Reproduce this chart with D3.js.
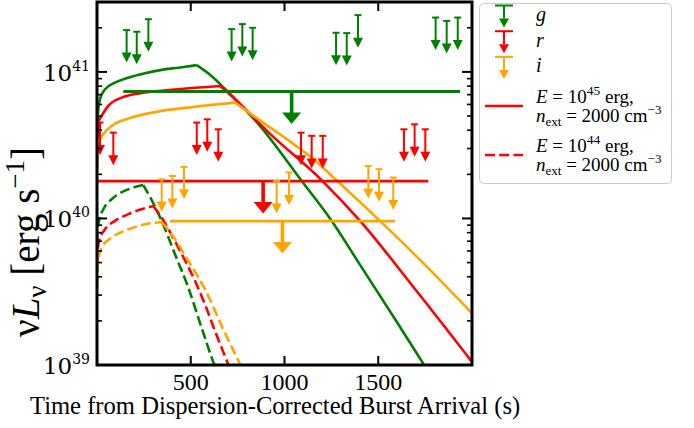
<!DOCTYPE html>
<html>
<head>
<meta charset="utf-8">
<script src="https://cdn.jsdelivr.net/npm/d3@7/dist/d3.min.js"></script>
<style>
html,body{margin:0;padding:0;background:#fff;}
text{font-family:"Liberation Serif","Times New Roman",Times,serif;fill:#000;}
</style>
</head>
<body>
<svg id="c" width="694" height="428"></svg>
<script>
// ---------------- DATA (times in s, luminosities in units of 1e40 erg/s) ----------------
const gLimT = [158,212,274,718,775,830,1275,1332,1392,1806,1865,1924];
const gLimL = [19.3,18.8,22.9,19.6,21.2,20.0,18.5,18.4,24.4,23.5,22.3,23.5];
const rLimT = [16,87,532,588,647,1088,1145,1204,1637,1694,1751];
const rLimL = [4.51,3.85,4.51,4.75,4.06,3.85,3.66,3.66,4.06,4.39,4.06];
const iLimT = [345,402,464,958,1024,1447,1504,1580];
const iLimL = [1.85,1.95,2.25,1.80,2.06,2.28,2.17,1.90];

// stacked (combined) upper limits per band
const stackBands = ["g","r","i"];
const stackStart = [140,5,389];
const stackEnd   = [1936,1767,1589];
const stackL     = [7.35,1.80,0.96];

// model light curves, E = 1e45 erg, n_ext = 2000 cm^-3
const tE45g = [1,4,16,43,96,167,256,345,434,532,603,683,869,1092,1252,1403,1589,1749,1850];
const LE45g = [4.28,5.01,6.52,7.62,8.45,9.14,9.80,10.33,10.69,11.12,9.55,7.65,4.28,1.80,0.962,0.482,0.206,0.098,0.062];
const tE45r = [1,3,7,25,60,132,256,434,656,700,923,1203,1403,1696,2000];
const LE45r = [3.38,3.66,4.51,5.01,5.86,6.68,7.23,7.62,8.02,7.19,3.78,1.80,0.962,0.330,0.105];
const tE45i = [1,3,11,34,78,167,345,523,736,869,1047,1154,1264,1509,1723,2000];
const LE45i = [2.11,2.47,3.29,3.76,4.28,4.80,5.42,5.79,6.17,4.67,3.23,2.55,1.89,0.962,0.521,0.225];
// model light curves, E = 1e44 erg, n_ext = 2000 cm^-3
const tE44g = [1,3,11,34,78,167,247,283,345,416,487,560,629,670];
const LE44g = [0.70,0.822,0.962,1.156,1.352,1.58,1.69,1.40,0.962,0.570,0.337,0.176,0.098,0.075];
const tE44r = [1,3,11,43,96,167,300,345,434,523,576,629,704,740];
const LE44r = [0.497,0.600,0.70,0.843,0.962,1.07,1.216,1.01,0.632,0.374,0.259,0.171,0.098,0.075];
const tE44i = [1,3,7,25,78,167,256,345,398,487,576,677,768,800];
const LE44i = [0.346,0.439,0.526,0.632,0.740,0.843,0.912,0.946,0.780,0.513,0.329,0.171,0.098,0.08];

const xTickVals = [500,1000,1500];
const yMajorVals = [1e39,1e40,1e41];
const yMajorExp = ["39","40","41"];

const legendBands = ["g","r","i"];
const legendModelE = ["45","44"];
const legendModelN = ["2000","2000"];

// ---------------- STYLE ----------------
const colors = {g:"green", r:"red", i:"orange"};
const U = 1e40;
const mathFont = "'DejaVu Serif', serif";

const svg = d3.select("#c");
const x = d3.scaleLinear().domain([0,2000]).range([97,472]);
const y = d3.scaleLog().domain([1e39,3e41]).range([365,2]);

svg.append("defs").append("clipPath").attr("id","plotclip")
  .append("rect").attr("x",x(0)).attr("y",y(3e41)).attr("width",x(2000)-x(0)).attr("height",y(1e39)-y(3e41));

const plot = svg.append("g").attr("clip-path","url(#plotclip)");

// ---- model curves ----
function drawModel(ts, Ls, color, dashed){
  const pts = ts.map((t,i)=>[t, Ls[i]*U]);
  const k = d3.maxIndex(pts, d=>d[1]);
  const line = d3.line().x(d=>x(d[0])).y(d=>y(d[1])).curve(d3.curveMonotoneX);
  plot.append("path")
    .attr("d", line(pts.slice(0,k+1)) + line(pts.slice(k)))
    .attr("fill","none").attr("stroke",color).attr("stroke-width",2.6)
    .attr("stroke-dasharray", dashed ? "10,4.2" : null)
    .attr("stroke-linejoin","round");
}
drawModel(tE44g, LE44g, colors.g, true);
drawModel(tE44r, LE44r, colors.r, true);
drawModel(tE44i, LE44i, colors.i, true);
drawModel(tE45g, LE45g, colors.g, false);
drawModel(tE45r, LE45r, colors.r, false);
drawModel(tE45i, LE45i, colors.i, false);

// ---- stacked limits: horizontal line + big arrow ----
stackBands.forEach((b,i)=>{
  const c = colors[b];
  const v = stackL[i]*U;
  plot.append("line").attr("x1",x(stackStart[i])).attr("x2",x(stackEnd[i]))
    .attr("y1",y(v)).attr("y2",y(v)).attr("stroke",c).attr("stroke-width",2.8);
  const xm = x((stackStart[i]+stackEnd[i])/2);
  const yt = y(v*0.6);
  plot.append("line").attr("x1",xm).attr("x2",xm).attr("y1",y(v)).attr("y2",yt-10)
    .attr("stroke",c).attr("stroke-width",3.6);
  plot.append("path").attr("d",`M${xm-9.5},${yt-11.5}L${xm+9.5},${yt-11.5}L${xm},${yt}Z`).attr("fill",c);
});

// ---- individual upper limits ----
function drawLimits(ts, Ls, color){
  ts.forEach((t,i)=>{
    const v = Ls[i]*U, xx = x(t), y0 = y(v), yt = y(v*0.6);
    plot.append("line").attr("x1",xx-3.5).attr("x2",xx+3.5).attr("y1",y0).attr("y2",y0)
      .attr("stroke",color).attr("stroke-width",2);
    plot.append("line").attr("x1",xx).attr("x2",xx).attr("y1",y0).attr("y2",yt-9)
      .attr("stroke",color).attr("stroke-width",2);
    plot.append("path").attr("d",`M${xx-5},${yt-10}L${xx+5},${yt-10}L${xx},${yt}Z`).attr("fill",color);
  });
}
drawLimits(gLimT, gLimL, colors.g);
drawLimits(rLimT, rLimL, colors.r);
drawLimits(iLimT, iLimL, colors.i);

// ---- axes frame & ticks (inward) ----
const ax = svg.append("g");
const X0=x(0), X1=x(2000), Y0=y(1e39), Y1=y(3e41);
function tk(x1,y1,x2,y2,w){ax.append("line").attr("x1",x1).attr("y1",y1).attr("x2",x2).attr("y2",y2).attr("stroke","#000").attr("stroke-width",w);}
xTickVals.forEach(v=>{
  tk(x(v),Y0,x(v),Y0-9,2); tk(x(v),Y1,x(v),Y1+9,2);
  ax.append("text").attr("x",x(v)).attr("y",Y0+25).attr("text-anchor","middle")
    .attr("font-size",24).text(v);
});
const minors=[];
for(let e=39;e<=41;e++){for(let m=2;m<=9;m++){const v=m*Math.pow(10,e); if(v<=3e41) minors.push(v);}}
minors.forEach(v=>{ if(y(v)>Y1+1){ tk(X0,y(v),X0+5,y(v),1.6); tk(X1,y(v),X1-5,y(v),1.6);} });
yMajorVals.forEach((v,i)=>{
  tk(X0,y(v),X0+10,y(v),2); tk(X1,y(v),X1-10,y(v),2);
  const t = ax.append("text").attr("x",90).attr("y",y(v)+9).attr("text-anchor","end")
    .attr("font-size",23).style("font-family",mathFont);
  t.append("tspan").text("10");
  t.append("tspan").attr("dy",-10).attr("font-size",14).text(yMajorExp[i]);
});
ax.append("rect").attr("x",X0).attr("y",Y1).attr("width",X1-X0).attr("height",Y0-Y1)
  .attr("fill","none").attr("stroke","#000").attr("stroke-width",3);

// axis labels
svg.append("text").attr("x",30).attr("y",414).attr("font-size",24.6)
  .text("Time from Dispersion-Corrected Burst Arrival (s)");
const yl = svg.append("text").attr("transform","translate(39,337) rotate(-90)")
  .attr("font-size",39);
yl.append("tspan").text("ν");
yl.append("tspan").attr("font-style","italic").text("L");
yl.append("tspan").attr("dy",7).attr("font-size",27).text("ν");
yl.append("tspan").attr("dy",-7).text(" [erg s");
yl.append("tspan").attr("dy",-15).attr("font-size",27).text("−1");
yl.append("tspan").attr("dy",15).text("]");

// ---- legend ----
const lg = svg.append("g");
lg.append("rect").attr("x",479.5).attr("y",3.5).attr("width",192).attr("height",180).attr("rx",4)
  .attr("fill","#fff").attr("fill-opacity",0.8).attr("stroke","#cccccc").attr("stroke-width",1);
legendBands.forEach((b,i)=>{
  const cy = 16.5 + i*25.7, cx = 504, c = colors[b];
  lg.append("line").attr("x1",cx-9).attr("x2",cx+9).attr("y1",cy-11).attr("y2",cy-11).attr("stroke",c).attr("stroke-width",2);
  lg.append("line").attr("x1",cx).attr("x2",cx).attr("y1",cy-11).attr("y2",cy+2).attr("stroke",c).attr("stroke-width",2);
  lg.append("path").attr("d",`M${cx-5},${cy+2}L${cx+5},${cy+2}L${cx},${cy+11}Z`).attr("fill",c);
  lg.append("text").attr("x",536).attr("y",cy+4.5).attr("font-size",20).attr("font-style","italic").text(b);
});
legendModelE.forEach((e,i)=>{
  const ly = 106 + i*49;
  lg.append("line").attr("x1",485).attr("x2",523).attr("y1",ly).attr("y2",ly)
    .attr("stroke",colors.r).attr("stroke-width",2.6).attr("stroke-dasharray", i===1 ? "10,4.2" : null);
  const t1 = lg.append("text").attr("x",536).attr("y",ly-3.3).attr("font-size",19);
  t1.append("tspan").attr("font-style","italic").text("E");
  t1.append("tspan").text(" = 10");
  t1.append("tspan").attr("dy",-8).attr("font-size",13.5).text(e);
  t1.append("tspan").attr("dy",8).text(" erg,");
  const t2 = lg.append("text").attr("x",536).attr("y",ly+15.7).attr("font-size",19);
  t2.append("tspan").attr("font-style","italic").text("n");
  t2.append("tspan").attr("dy",4).attr("font-size",13).text("ext");
  t2.append("tspan").attr("dy",-4).text(" = " + legendModelN[i] + " cm");
  t2.append("tspan").attr("dy",-8).attr("font-size",13).text("−3");
});
</script>
</body>
</html>
